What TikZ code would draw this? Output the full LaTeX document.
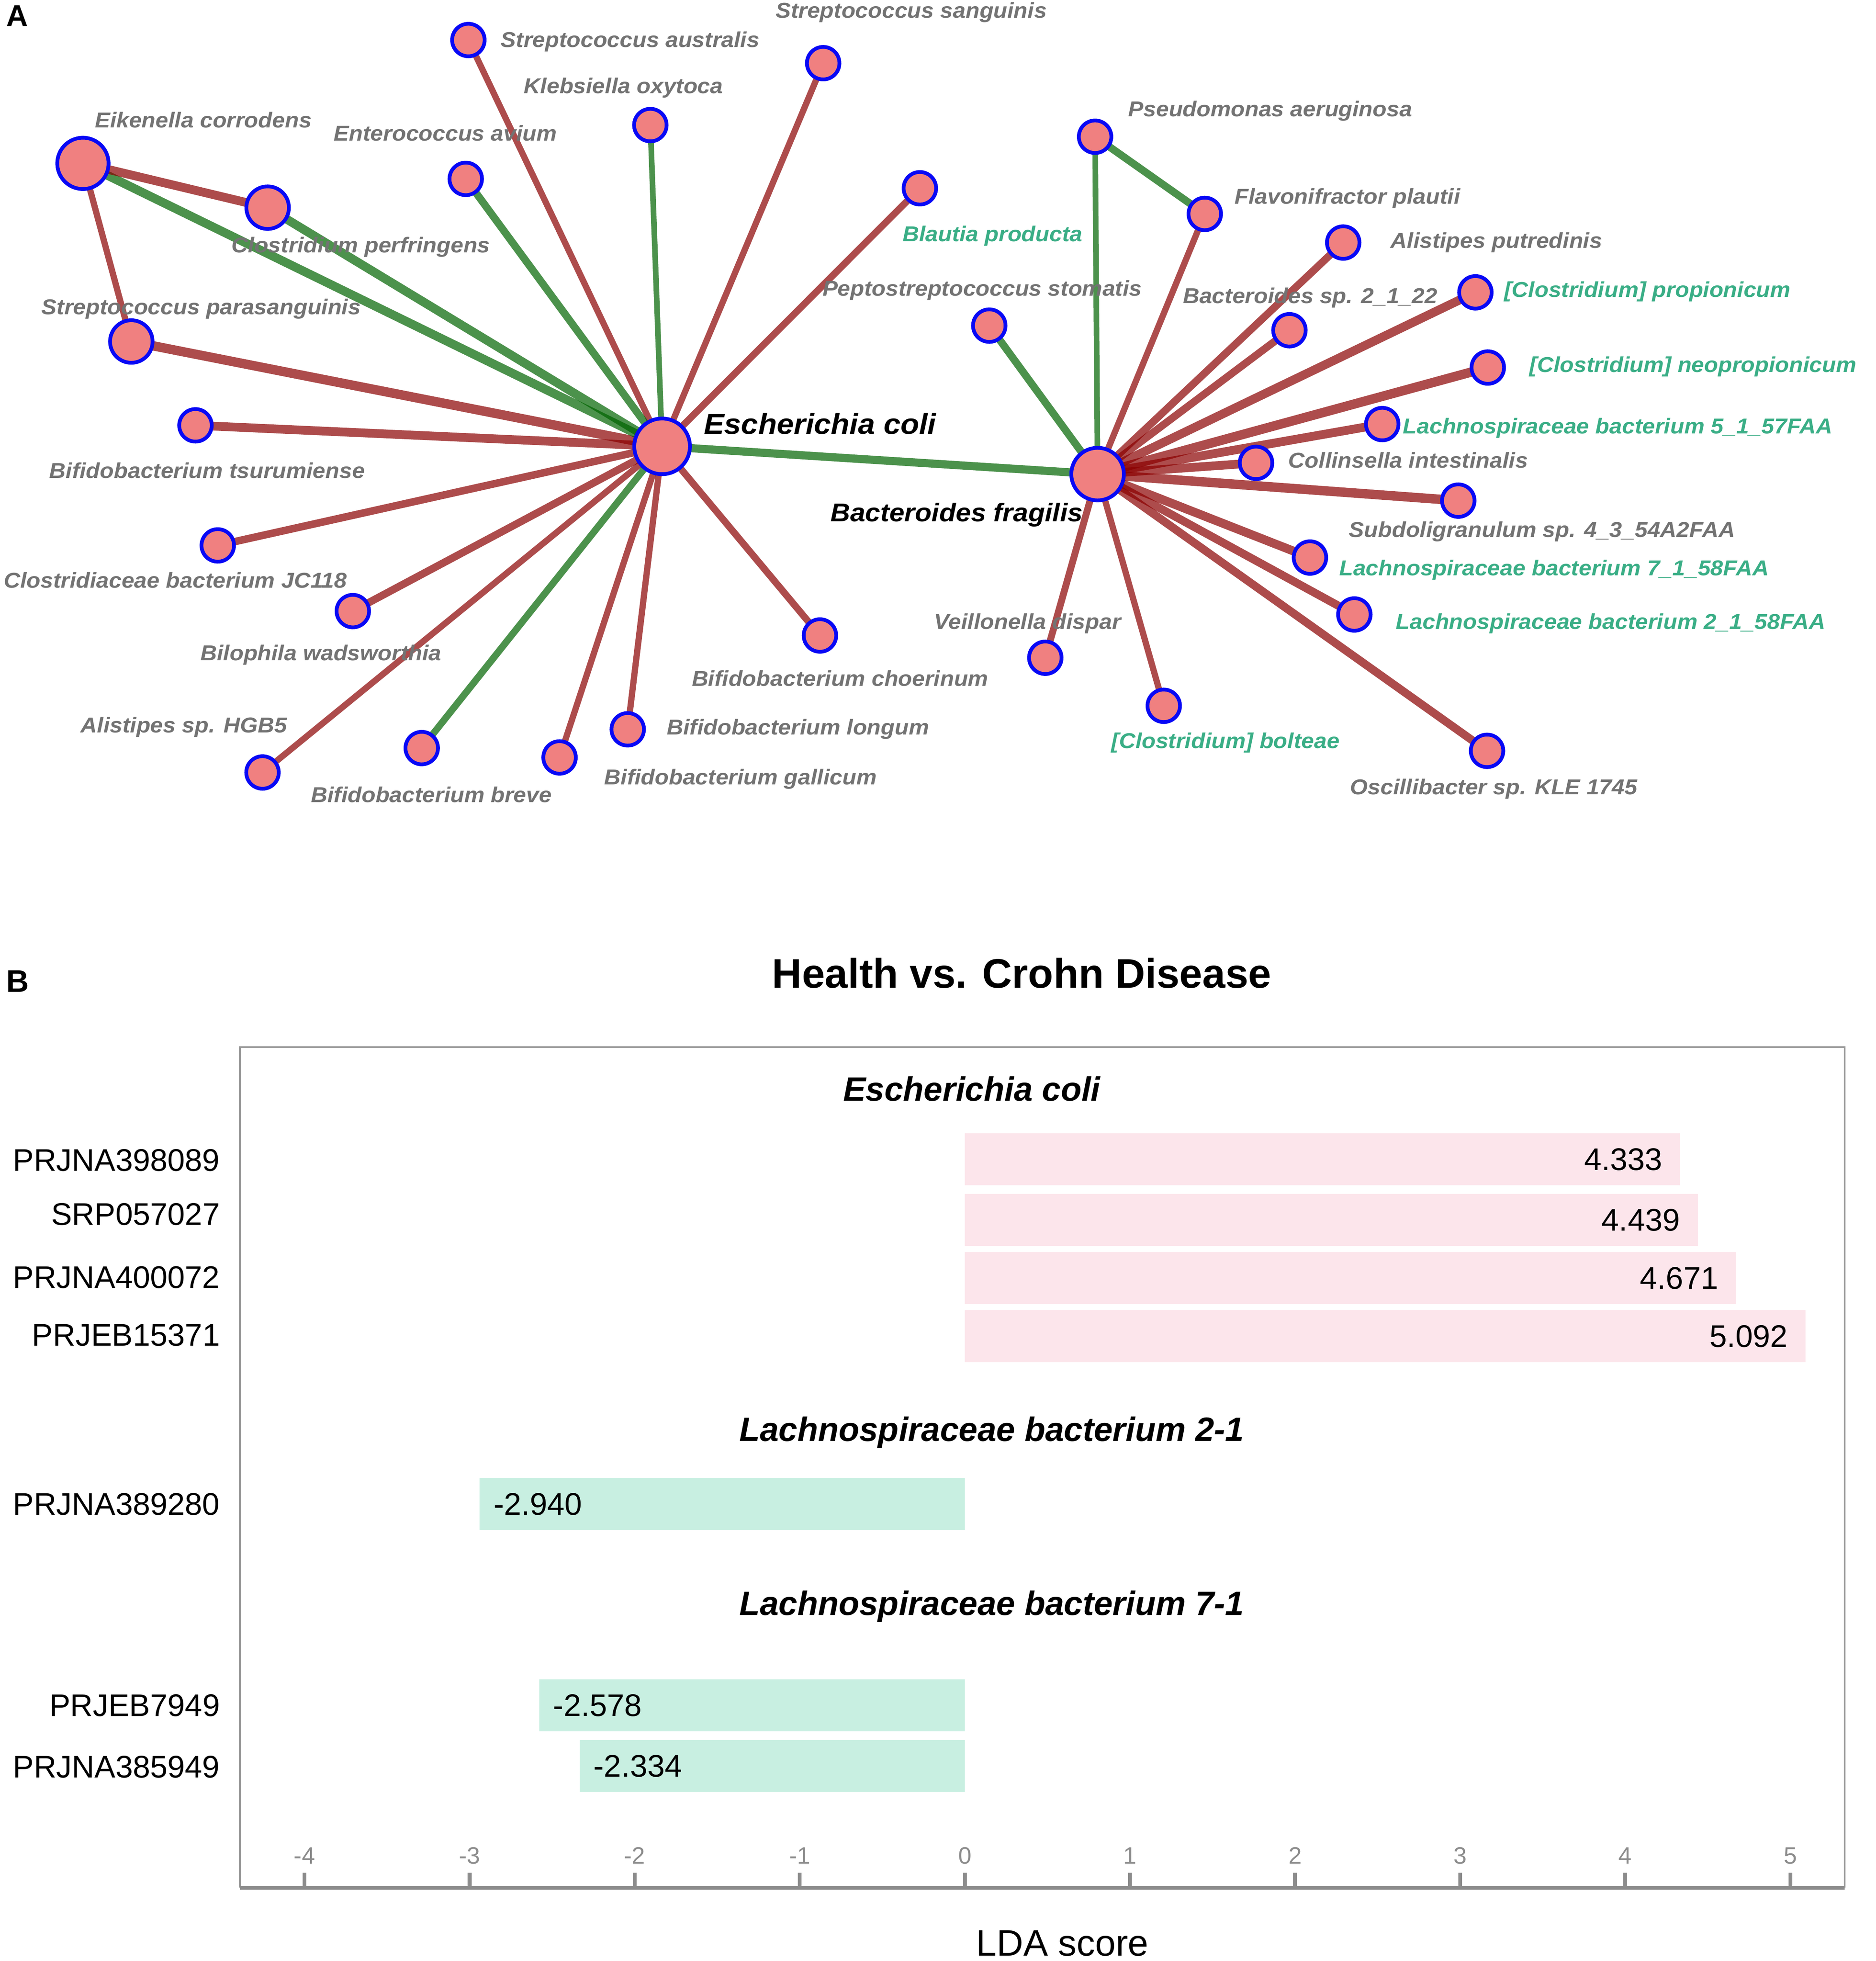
\documentclass[tikz,border=0pt]{standalone}
\usepackage{fontspec}
\setmainfont{Liberation Sans}
\newfontfamily\netfont[FakeStretch=1.06]{Liberation Sans}
\usetikzlibrary{backgrounds}

\definecolor{nodepink}{RGB}{240,128,128}
\definecolor{nodeblue}{RGB}{8,8,245}
\definecolor{darkred}{RGB}{139,0,0}
\definecolor{darkgrn}{RGB}{0,100,0}
\definecolor{labgray}{RGB}{115,115,115}
\definecolor{labgreen}{RGB}{58,174,134}
\definecolor{barpink}{RGB}{252,229,235}
\definecolor{barmint}{RGB}{200,239,225}
\definecolor{framegray}{RGB}{150,150,150}
\definecolor{tickgray}{RGB}{140,140,140}

\tikzset{
  taxon/.style = {circle, draw=nodeblue, fill=nodepink, line width=3pt, inner sep=0pt, minimum size=26pt},
  hub/.style = {taxon, minimum size=44pt},
  taxlab/.style = {anchor=base west, inner sep=0pt, text=labgray,
    font=\netfont\fontsize{17.2}{19}\selectfont\bfseries\itshape},
  grnlab/.style = {taxlab, text=labgreen},
  hublab/.style = {taxlab, text=black, font=\netfont\fontsize{#1}{26}\selectfont\bfseries\itshape},
  redge/.style = {draw=darkred, draw opacity=0.7, line width=#1},
  gedge/.style = {draw=darkgrn, draw opacity=0.7, line width=#1},
  panel/.style = {anchor=base west, inner sep=0pt, font=\fontsize{24}{26}\selectfont\bfseries},
  study/.style = {anchor=base east, inner sep=0pt, font=\fontsize{25}{28}\selectfont},
  score/.style = {inner sep=0pt, font=\fontsize{25}{28}\selectfont},
  group/.style = {anchor=base, inner sep=0pt, font=\fontsize{27}{30}\selectfont\bfseries\itshape},
  ticklab/.style = {anchor=base, inner sep=0pt, text=tickgray, font=\fontsize{19}{21}\selectfont}
}

\begin{document}
\begin{tikzpicture}[x=1pt, y=-1pt]

  \useasboundingbox (0,0) rectangle (1500,1567.6);

  %% Panel A: network

  \node[panel] (pA) at (5,21) {A};

  % E. coli neighbourhood
  \node[hub, minimum size=44.5pt] (ecoli) at (529.4,356.8) {};
  \node[taxon, minimum size=41pt] (eiken) at (66.3,130.6) {};
  \node[taxon, minimum size=34pt] (cperf) at (214,166) {};
  \node[taxon, minimum size=34pt] (spara) at (105,273) {};
  \node[taxon] (saust) at (374.5,32) {};
  \node[taxon] (eavium) at (372.4,143) {};
  \node[taxon] (kleb) at (520,100) {};
  \node[taxon] (ssang) at (658.2,50.5) {};
  \node[taxon] (blaut) at (735.5,150.5) {};
  \node[taxon] (btsur) at (156.3,340) {};
  \node[taxon] (cjc) at (174.1,436) {};
  \node[taxon] (bwads) at (282.1,488.5) {};
  \node[taxon] (ahgb) at (209.9,617.5) {};
  \node[taxon] (bbreve) at (337.2,598) {};
  \node[taxon] (bgall) at (447.4,605.5) {};
  \node[taxon] (blong) at (501.9,583) {};
  \node[taxon] (bchoer) at (655.6,508) {};

  % B. fragilis neighbourhood
  \node[hub, minimum size=42pt] (bfrag) at (877.6,379) {};
  \node[taxon] (paer) at (875.6,109.3) {};
  \node[taxon] (fplaut) at (963.3,171) {};
  \node[taxon] (pstom) at (791,260.3) {};
  \node[taxon] (aputr) at (1074,193.9) {};
  \node[taxon] (bsp) at (1031,264) {};
  \node[taxon] (cprop) at (1179.7,233.7) {};
  \node[taxon] (cneo) at (1189.6,293.8) {};
  \node[taxon] (lbfive) at (1105.2,339) {};
  \node[taxon] (cint) at (1004.3,370) {};
  \node[taxon] (subdo) at (1166,400.2) {};
  \node[taxon] (lbseven) at (1047.4,445.7) {};
  \node[taxon] (lbtwo) at (1082.9,491.2) {};
  \node[taxon] (vdisp) at (835.8,525.8) {};
  \node[taxon] (cbolt) at (930.5,564.2) {};
  \node[taxon] (oscil) at (1189,600.2) {};

  % Edges (white page first, then the links under the nodes)
  \begin{pgfonlayer}{background}
    \fill[white] (0,0) rectangle (1500,1567.6);
    \foreach \n/\w in {spara/7.5, saust/5, ssang/5, blaut/5.5, btsur/7, cjc/6, bwads/6,
                       ahgb/5, bgall/5, blong/5, bchoer/5.5}
      \draw[redge=\w pt] (\n.center) -- (ecoli.center);
    \foreach \n/\w in {eiken/7, cperf/7, eavium/6, kleb/4.5, bbreve/5.5, bfrag/6.5}
      \draw[gedge=\w pt] (\n.center) -- (ecoli.center);
    \draw[redge=7pt] (eiken.center) -- (cperf.center);
    \draw[redge=5pt] (eiken.center) -- (spara.center);

    \foreach \n/\w in {fplaut/5, aputr/6, bsp/6, cprop/7, cneo/7.5, lbfive/7, cint/7, subdo/7.5,
                       lbseven/7, lbtwo/6.5, vdisp/5.5, cbolt/5, oscil/6.5}
      \draw[redge=\w pt] (\n.center) -- (bfrag.center);
    \draw[gedge=4.5pt] (paer.center) -- (bfrag.center);
    \draw[gedge=6pt] (pstom.center) -- (bfrag.center);
    \draw[gedge=6pt] (paer.center) -- (fplaut.center);
  \end{pgfonlayer}

  % Labels
  \node[taxlab] (saust-l) at (400.3,37.8) {Streptococcus australis};
  \node[taxlab] (ssang-l) at (620,14.3) {Streptococcus sanguinis};
  \node[taxlab] (kleb-l) at (418.8,74.7) {Klebsiella oxytoca};
  \node[taxlab] (eiken-l) at (75.7,102) {Eikenella corrodens};
  \node[taxlab] (eavium-l) at (266.8,112.5) {Enterococcus avium};
  \node[taxlab] (cperf-l) at (185,201.9) {Clostridium perfringens};
  \node[taxlab] (spara-l) at (33,251.3) {Streptococcus parasanguinis};
  \node[grnlab] (blaut-l) at (721.5,193) {Blautia producta};
  \node[taxlab] (pstom-l) at (657.5,236.5) {Peptostreptococcus stomatis};
  \node[hublab=23] (ecoli-l) at (562.7,346.9) {Escherichia coli};
  \node[taxlab] (btsur-l) at (39.3,382.3) {Bifidobacterium tsurumiense};
  \node[taxlab] (cjc-l) at (2.9,470) {Clostridiaceae bacterium JC118};
  \node[taxlab] (bwads-l) at (160.2,528) {Bilophila wadsworthia};
  \node[taxlab] (ahgb-l) at (64.4,585.8) {Alistipes sp. HGB5};
  \node[taxlab] (bbreve-l) at (248.5,641.3) {Bifidobacterium breve};
  \node[taxlab] (bgall-l) at (483,627.2) {Bifidobacterium gallicum};
  \node[taxlab] (blong-l) at (533,587.3) {Bifidobacterium longum};
  \node[taxlab] (bchoer-l) at (553,548.3) {Bifidobacterium choerinum};

  \node[hublab=20.5] (bfrag-l) at (663.9,417) {Bacteroides fragilis};
  \node[taxlab] (paer-l) at (902,93) {Pseudomonas aeruginosa};
  \node[taxlab] (fplaut-l) at (987,163) {Flavonifractor plautii};
  \node[taxlab] (aputr-l) at (1111.7,198.4) {Alistipes putredinis};
  \node[taxlab] (bsp-l) at (945.7,242.5) {Bacteroides sp. 2\_1\_22};
  \node[grnlab] (cprop-l) at (1202.6,237.5) {[Clostridium] propionicum};
  \node[grnlab] (cneo-l) at (1222.8,297.5) {[Clostridium] neopropionicum};
  \node[grnlab] (lbfive-l) at (1121.6,346.5) {Lachnospiraceae bacterium 5\_1\_57FAA};
  \node[taxlab] (cint-l) at (1030,374) {Collinsella intestinalis};
  \node[taxlab] (subdo-l) at (1078.4,429.3) {Subdoligranulum sp. 4\_3\_54A2FAA};
  \node[grnlab] (lbseven-l) at (1070.7,460) {Lachnospiraceae bacterium 7\_1\_58FAA};
  \node[grnlab] (lbtwo-l) at (1116,503) {Lachnospiraceae bacterium 2\_1\_58FAA};
  \node[taxlab] (vdisp-l) at (746.8,503) {Veillonella dispar};
  \node[grnlab] (cbolt-l) at (888.5,598.3) {[Clostridium] bolteae};
  \node[taxlab] (oscil-l) at (1079.3,635.2) {Oscillibacter sp. KLE 1745};

  %% Panel B: LDA scores

  \node[panel, font=\fontsize{25}{27}\selectfont\bfseries] (pB) at (4.8,793) {B};
  \node[anchor=base, inner sep=0pt, font=\fontsize{33}{36}\selectfont\bfseries] (title) at (817,789.6)
    {Health vs. Crohn Disease};

  % Frame and axis
  \draw[framegray, line width=1.5pt] (192,1509) -- (192,837) -- (1475,837) -- (1475,1509);
  \draw[tickgray, line width=3pt] (192,1509) -- (1475,1509);
  \foreach \t in {-4,...,5} {
    \draw[tickgray, line width=3pt] ({771.5+132*\t},1509) -- ++(0,-12);
    \node[ticklab] at ({771.5+132*\t},1490) {\t};
  }

  % Bars | enriched in Crohn disease
  \node[group] (grp-ecoli) at (777,880) {Escherichia coli};
  \foreach \top/\v/\s/\b in {906/4.333/PRJNA398089/936.2, 954.5/4.439/SRP057027/979.3,
                             1001/4.671/PRJNA400072/1029.6, 1047.5/5.092/PRJEB15371/1076} {
    \fill[barpink] (771.5,\top) rectangle ({771.5+132*\v},{\top+41.5});
    \node[score, anchor=base east] at ({771.5+132*\v-14},{\top+29.5}) {\v};
    \node[study] at (176,\b) {\s};
  }

  % Bars | enriched in health
  \node[group] (grp-lbtwo) at (793,1152) {Lachnospiraceae bacterium 2-1};
  \node[group] (grp-lbseven) at (793,1291) {Lachnospiraceae bacterium 7-1};
  \foreach \top/\v/\s/\b in {1181.5/-2.940/PRJNA389280/1211, 1342.5/-2.578/PRJEB7949/1372,
                             1391/-2.334/PRJNA385949/1421} {
    \fill[barmint] ({771.5+132*\v},\top) rectangle (771.5,{\top+41.5});
    \node[score, anchor=base west] at ({771.5+132*\v+11},{\top+29.5}) {\v};
    \node[study] at (176,\b) {\s};
  }

  \node[anchor=base, inner sep=0pt, font=\fontsize{29.5}{32}\selectfont] (xlab) at (849.5,1563.4) {LDA score};

\end{tikzpicture}
\end{document}
